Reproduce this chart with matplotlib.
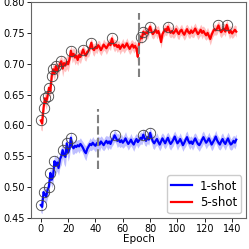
import numpy as np
import matplotlib
matplotlib.use("Agg")
import matplotlib.pyplot as plt

# validation accuracy per epoch (mean over runs) and spread
epochs = np.arange(144)

acc_5shot = [
    0.608, 0.603, 0.628, 0.644, 0.638, 0.648, 0.661, 0.655, 0.680, 0.691,
    0.684, 0.696, 0.688, 0.693, 0.699, 0.704, 0.692, 0.701, 0.697, 0.703,
    0.699, 0.707, 0.721, 0.712, 0.716, 0.710, 0.713, 0.706, 0.714, 0.711,
    0.717, 0.723, 0.716, 0.713, 0.719, 0.721, 0.726, 0.734, 0.724, 0.722,
    0.727, 0.725, 0.730, 0.727, 0.722, 0.726, 0.731, 0.728, 0.725, 0.729,
    0.733, 0.730, 0.741, 0.733, 0.729, 0.731, 0.727, 0.730, 0.724, 0.728,
    0.731, 0.726, 0.729, 0.733, 0.728, 0.724, 0.728, 0.731, 0.726, 0.729,
    0.724, 0.711, 0.737, 0.744, 0.741, 0.752, 0.748, 0.751, 0.749, 0.754,
    0.760, 0.752, 0.748, 0.751, 0.755, 0.750, 0.753, 0.746, 0.735, 0.748,
    0.752, 0.756, 0.753, 0.760, 0.754, 0.750, 0.753, 0.749, 0.752, 0.756,
    0.751, 0.748, 0.753, 0.755, 0.750, 0.747, 0.752, 0.756, 0.751, 0.749,
    0.754, 0.750, 0.753, 0.757, 0.752, 0.748, 0.751, 0.755, 0.750, 0.753,
    0.749, 0.746, 0.750, 0.745, 0.740, 0.747, 0.752, 0.756, 0.754, 0.757,
    0.762, 0.755, 0.751, 0.754, 0.757, 0.752, 0.763, 0.756, 0.750, 0.753,
    0.749, 0.752, 0.755, 0.752]

std_5shot = [
    0.015, 0.012, 0.011, 0.010, 0.012, 0.011, 0.010, 0.012, 0.011, 0.010,
    0.012, 0.011, 0.013, 0.012, 0.010, 0.011, 0.013, 0.012, 0.010, 0.011,
    0.012, 0.010, 0.009, 0.011, 0.010, 0.012, 0.011, 0.009, 0.010, 0.011,
    0.009, 0.008, 0.010, 0.009, 0.008, 0.010, 0.009, 0.008, 0.009, 0.010,
    0.008, 0.009, 0.008, 0.010, 0.009, 0.008, 0.009, 0.008, 0.010, 0.009,
    0.008, 0.009, 0.008, 0.009, 0.010, 0.008, 0.009, 0.008, 0.009, 0.008,
    0.010, 0.009, 0.008, 0.009, 0.008, 0.009, 0.010, 0.008, 0.009, 0.008,
    0.009, 0.012, 0.009, 0.008, 0.009, 0.008, 0.009, 0.008, 0.010, 0.009,
    0.008, 0.009, 0.008, 0.009, 0.008, 0.010, 0.009, 0.008, 0.010, 0.009,
    0.008, 0.009, 0.008, 0.009, 0.010, 0.008, 0.009, 0.008, 0.009, 0.008,
    0.010, 0.009, 0.008, 0.009, 0.008, 0.009, 0.010, 0.008, 0.009, 0.008,
    0.009, 0.008, 0.010, 0.009, 0.008, 0.009, 0.008, 0.009, 0.010, 0.008,
    0.009, 0.008, 0.009, 0.008, 0.010, 0.009, 0.008, 0.009, 0.008, 0.009,
    0.008, 0.010, 0.009, 0.008, 0.009, 0.008, 0.009, 0.008, 0.010, 0.009,
    0.008, 0.009, 0.008, 0.009]

acc_1shot = [
    0.471, 0.468, 0.492, 0.488, 0.485, 0.496, 0.501, 0.523, 0.512, 0.518,
    0.542, 0.535, 0.540, 0.531, 0.545, 0.550, 0.560, 0.552, 0.549, 0.571,
    0.556, 0.562, 0.580, 0.566, 0.563, 0.567, 0.565, 0.568, 0.566, 0.570,
    0.567, 0.563, 0.558, 0.555, 0.562, 0.566, 0.570, 0.568, 0.572, 0.569,
    0.567, 0.571, 0.573, 0.569, 0.574, 0.571, 0.568, 0.572, 0.575, 0.571,
    0.574, 0.570, 0.576, 0.578, 0.584, 0.580, 0.575, 0.577, 0.573, 0.576,
    0.572, 0.575, 0.579, 0.574, 0.570, 0.573, 0.577, 0.572, 0.569, 0.574,
    0.578, 0.573, 0.576, 0.580, 0.578, 0.585, 0.579, 0.575, 0.581, 0.577,
    0.588, 0.580, 0.574, 0.571, 0.575, 0.578, 0.573, 0.569, 0.574, 0.579,
    0.575, 0.571, 0.576, 0.580, 0.574, 0.570, 0.573, 0.577, 0.582, 0.576,
    0.571, 0.574, 0.578, 0.573, 0.568, 0.572, 0.577, 0.581, 0.575, 0.571,
    0.574, 0.570, 0.575, 0.579, 0.574, 0.570, 0.568, 0.572, 0.577, 0.581,
    0.576, 0.572, 0.575, 0.579, 0.574, 0.569, 0.573, 0.577, 0.582, 0.576,
    0.572, 0.569, 0.574, 0.578, 0.573, 0.570, 0.575, 0.579, 0.573, 0.569,
    0.571, 0.575, 0.572, 0.577]

std_1shot = [
    0.012, 0.011, 0.010, 0.012, 0.011, 0.013, 0.012, 0.011, 0.013, 0.012,
    0.011, 0.013, 0.014, 0.012, 0.013, 0.014, 0.012, 0.015, 0.016, 0.013,
    0.014, 0.012, 0.011, 0.012, 0.010, 0.011, 0.010, 0.009, 0.011, 0.010,
    0.009, 0.010, 0.011, 0.012, 0.010, 0.009, 0.010, 0.009, 0.010, 0.009,
    0.010, 0.009, 0.010, 0.011, 0.009, 0.010, 0.009, 0.010, 0.009, 0.011,
    0.010, 0.009, 0.010, 0.009, 0.010, 0.009, 0.011, 0.010, 0.009, 0.010,
    0.009, 0.010, 0.011, 0.009, 0.010, 0.009, 0.010, 0.009, 0.011, 0.010,
    0.009, 0.010, 0.009, 0.010, 0.009, 0.010, 0.011, 0.009, 0.010, 0.009,
    0.010, 0.009, 0.011, 0.010, 0.009, 0.010, 0.009, 0.010, 0.011, 0.009,
    0.010, 0.009, 0.010, 0.009, 0.011, 0.010, 0.009, 0.010, 0.009, 0.010,
    0.011, 0.009, 0.010, 0.009, 0.010, 0.009, 0.011, 0.010, 0.009, 0.010,
    0.009, 0.010, 0.011, 0.009, 0.010, 0.009, 0.010, 0.009, 0.011, 0.010,
    0.009, 0.010, 0.009, 0.010, 0.009, 0.010, 0.011, 0.009, 0.010, 0.009,
    0.010, 0.009, 0.011, 0.010, 0.009, 0.010, 0.009, 0.010, 0.011, 0.009,
    0.010, 0.009, 0.010, 0.009]

# epochs with a circled (best so far) checkpoint
best_5shot = [0, 2, 3, 5, 6, 8, 9, 11, 15, 22, 31, 37, 52, 73, 75, 80, 93, 130, 136]
best_1shot = [0, 2, 6, 7, 10, 16, 19, 22, 54, 75, 80]

# dashed markers: epoch and vertical extent
switch_1shot = 42
span_1shot = (0.529, 0.626)
switch_5shot = 72
span_5shot = (0.679, 0.782)

acc_5shot = np.array(acc_5shot); std_5shot = np.array(std_5shot)
acc_1shot = np.array(acc_1shot); std_1shot = np.array(std_1shot)

fig = plt.figure(figsize=(2.49, 2.49), dpi=100)
ax = fig.add_axes([0.1245, 0.1245, 0.8635, 0.8675])

for acc, sd, best, c, lbl in [(acc_1shot, std_1shot, best_1shot, "#0000ff", "1-shot"),
                              (acc_5shot, std_5shot, best_5shot, "#ff0000", "5-shot")]:
    ax.fill_between(epochs, acc - sd, acc + sd, color=c, alpha=0.25, lw=0)
    ax.plot(epochs, acc, color=c, lw=1.6, label=lbl)
    ax.plot(epochs[best], acc[best], "o", ms=7.5, mfc="none", mec="#444444", mew=0.6)

ax.vlines(switch_1shot, *span_1shot, colors="#808080", lw=1.5, linestyles=(0, (4, 1.5)))
ax.vlines(switch_5shot, *span_5shot, colors="#808080", lw=1.5, linestyles=(0, (4, 1.5)))

ax.set_ylim(0.45, 0.80)
ax.set_yticks([0.45, 0.50, 0.55, 0.60, 0.65, 0.70, 0.75, 0.80])
ax.set_xticks([0, 20, 40, 60, 80, 100, 120, 140])
ax.tick_params(labelsize=7, length=3, width=0.6, pad=1.5)
for s in ax.spines.values():
    s.set_color("#666666"); s.set_linewidth(0.8)
ax.set_xlabel("Epoch", fontsize=7.5, labelpad=0)
ax.set_ylabel("Validation accuracy", fontsize=7.5, labelpad=2)
ax.legend(loc="lower right", fontsize=8.5, handlelength=1.7, borderpad=0.35,
          labelspacing=0.3, handletextpad=0.7, borderaxespad=0.4,
          framealpha=1, edgecolor="#cccccc")

plt.savefig("out.png", dpi=100)
